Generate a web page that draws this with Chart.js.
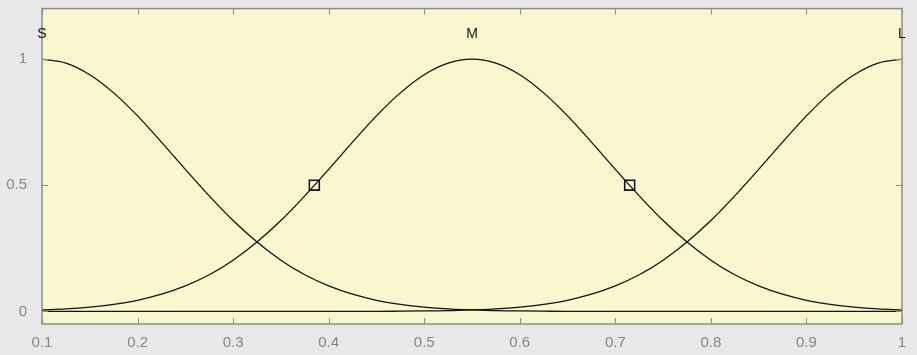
<!DOCTYPE html>
<html>
<head>
<meta charset="utf-8">
<script src="https://cdn.jsdelivr.net/npm/chart.js@4.4.0/dist/chart.umd.min.js"></script>
<style>
  html, body { margin: 0; padding: 0; background: #e8e8e8; }
  #wrap { width: 917px; height: 355px; position: relative; }
</style>
</head>
<body>
<div id="wrap"><canvas id="myChart" width="917" height="355"></canvas></div>
<script>
// input variable values (x axis)
const xValues = [0.1, 0.125, 0.15, 0.175, 0.2, 0.225, 0.25, 0.275, 0.3, 0.325,
  0.35, 0.375, 0.4, 0.425, 0.45, 0.475, 0.5, 0.525, 0.55, 0.575,
  0.6, 0.625, 0.65, 0.675, 0.7, 0.725, 0.75, 0.775, 0.8, 0.825,
  0.85, 0.875, 0.9, 0.925, 0.95, 0.975, 1.0]

// membership degrees
const mfS = [1, 0.984, 0.938, 0.866, 0.775, 0.671, 0.563, 0.458, 0.36, 0.275,
  0.203, 0.145, 0.101, 0.068, 0.044, 0.028, 0.017, 0.01, 0.006, 0.003,
  0.002, 0.001, 0, 0, 0, 0, 0, 0, 0, 0,
  0, 0, 0, 0, 0, 0, 0]
const mfM = [0.006, 0.01, 0.017, 0.028, 0.044, 0.068, 0.101, 0.145, 0.203, 0.275,
  0.36, 0.458, 0.563, 0.671, 0.775, 0.866, 0.938, 0.984, 1, 0.984,
  0.938, 0.866, 0.775, 0.671, 0.563, 0.458, 0.36, 0.275, 0.203, 0.145,
  0.101, 0.068, 0.044, 0.028, 0.017, 0.01, 0.006]
const mfL = [0, 0, 0, 0, 0, 0, 0, 0, 0, 0,
  0, 0, 0, 0, 0, 0.001, 0.002, 0.003, 0.006, 0.01,
  0.017, 0.028, 0.044, 0.068, 0.101, 0.145, 0.203, 0.275, 0.36, 0.458,
  0.563, 0.671, 0.775, 0.866, 0.938, 0.984, 1]

// names of the membership functions and where they peak
const mfNames = ["S", "M", "L"]
const mfPeaks = [0.1, 0.55, 1.0]
const labelLevel = 1.1

// handles of the selected function (M)
const handleX = [0.385, 0.715]
const handleY = [0.5, 0.5]

const yTicks = [0, 0.5, 1]

function toPoints(ys){
    return xValues.map((x, i) => ({x: x, y: ys[i]}))
}

const curveStyle = {
    borderColor: "#111",
    borderWidth: 1.3,
    pointRadius: 0,
    fill: false,
    cubicInterpolationMode: "monotone"
}

// background of the plot area, inward ticks, box
const boxPlugin = {
    id: "box",
    beforeDatasetsDraw(chart){
        const {ctx, chartArea: a} = chart
        ctx.save()
        ctx.fillStyle = "#f9f7cd"
        ctx.fillRect(a.left, a.top, a.right - a.left, a.bottom - a.top)
        ctx.restore()
    },
    afterDatasetsDraw(chart){
        const {ctx, chartArea: a, scales} = chart
        ctx.save()
        ctx.strokeStyle = "#8c8c8c"
        ctx.lineWidth = 1
        ctx.beginPath()
        scales.x.ticks.forEach(t => {
            const px = Math.round(scales.x.getPixelForValue(t.value)) + 0.5
            ctx.moveTo(px, a.bottom); ctx.lineTo(px, a.bottom - 6)
            ctx.moveTo(px, a.top); ctx.lineTo(px, a.top + 6)
        })
        scales.y.ticks.forEach(t => {
            const py = Math.round(scales.y.getPixelForValue(t.value)) + 0.5
            ctx.moveTo(a.left, py); ctx.lineTo(a.left + 6, py)
            ctx.moveTo(a.right, py); ctx.lineTo(a.right - 6, py)
        })
        ctx.stroke()
        ctx.lineWidth = 1.5
        ctx.strokeRect(a.left, a.top, a.right - a.left, a.bottom - a.top)

        // names above the peaks
        ctx.fillStyle = "#111"
        ctx.font = "14px 'Liberation Sans', Arial, sans-serif"
        ctx.textAlign = "center"
        ctx.textBaseline = "middle"
        mfNames.forEach((n, i) => {
            ctx.fillText(n, scales.x.getPixelForValue(mfPeaks[i]), scales.y.getPixelForValue(labelLevel))
        })
        ctx.restore()
    }
}

const config = {
    type: "line",
    data: {
        datasets: [
            Object.assign({label: mfNames[0], data: toPoints(mfS)}, curveStyle),
            Object.assign({label: mfNames[1], data: toPoints(mfM)}, curveStyle),
            Object.assign({label: mfNames[2], data: toPoints(mfL)}, curveStyle),
            {
                type: "scatter",
                label: "handles",
                data: handleX.map((x, i) => ({x: x, y: handleY[i]})),
                pointStyle: "rect",
                pointRadius: 7,
                pointBorderColor: "#111",
                pointBackgroundColor: "rgba(0,0,0,0)",
                pointBorderWidth: 1.6
            }
        ]
    },
    options: {
        responsive: false,
        animation: false,
        layout: {padding: {top: 8, right: 15, left: 0, bottom: 0}},
        plugins: {legend: {display: false}, tooltip: {enabled: false}},
        scales: {
            x: {
                type: "linear",
                min: 0.1,
                max: 1,
                ticks: {
                    stepSize: 0.1,
                    color: "#858585",
                    font: {family: "'Liberation Sans', Arial, sans-serif", size: 15},
                    padding: 2,
                    maxRotation: 0,
                    callback: v => String(Math.round(v * 10) / 10)
                },
                grid: {display: false},
                border: {display: false},
                afterFit(s){ s.height = 31 }
            },
            y: {
                min: -0.05,
                max: 1.2,
                afterBuildTicks(s){ s.ticks = yTicks.map(v => ({value: v})) },
                ticks: {
                    color: "#858585",
                    font: {family: "'Liberation Sans', Arial, sans-serif", size: 15},
                    padding: 7,
                    callback: v => String(v)
                },
                grid: {display: false},
                border: {display: false},
                afterFit(s){ s.width = 42; s.paddingTop = 0; s.paddingBottom = 0 }
            }
        }
    },
    plugins: [boxPlugin]
}

new Chart(document.getElementById("myChart"), config)
</script>
</body>
</html>
